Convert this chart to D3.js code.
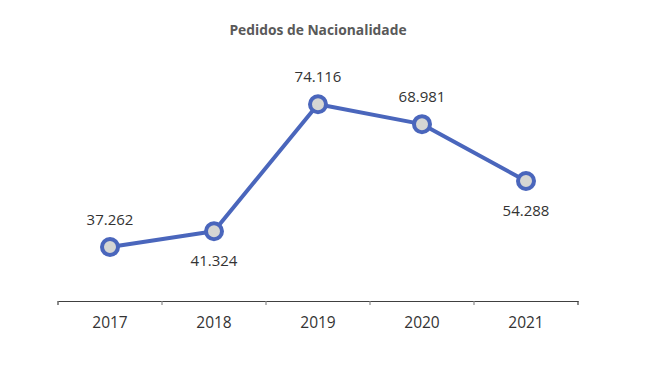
<!DOCTYPE html>
<html><head><meta charset="utf-8">
<script src="https://cdn.jsdelivr.net/npm/d3@7"></script>
<style>body{margin:0;background:#fff}</style>
</head><body>
<svg id="c" width="657" height="365"></svg>
<script>
const title = "Pedidos de Nacionalidade";
const years = ["2017","2018","2019","2020","2021"];
const values = [37262, 41324, 74116, 68981, 54288];
const labels = ["37.262","41.324","74.116","68.981","54.288"];
const labelPos = ["above","below","above","above","below"];

(function(){
const svg = d3.select("#c");
const W = 657, H = 365;
const mL = 58, mR = 578, mT = 80, mB = 301;
const font = "'Open Sans', 'Liberation Sans', sans-serif";
const lineColor = "#4A66BC";

svg.append("rect").attr("width", W).attr("height", H).attr("fill", "#fff");

svg.append("text").attr("x", 318).attr("y", 35).attr("text-anchor", "middle")
  .attr("font-family", font).attr("font-weight", "bold").attr("font-size", 13.8)
  .attr("fill", "#595959").text(title);

const x = d3.scaleBand().domain(years).range([mL, mR]).padding(0);
const y = d3.scaleLinear().domain([23300, 80000]).range([mB, mT + 1.5]);

const axis = d3.axisBottom(x).tickSize(0).tickPadding(16);
const gAx = svg.append("g").attr("transform", `translate(0,${mB})`).call(axis);
gAx.select(".domain").attr("stroke", "#404040").attr("stroke-width", 1.2);
gAx.selectAll("text").attr("font-family", font).attr("font-size", 15.5).attr("fill", "#333333");
const bounds = years.map(d => x(d)).concat([x(years[years.length-1]) + x.bandwidth()]);
svg.append("g").selectAll("line").data(bounds).join("line")
  .attr("x1", d => d).attr("x2", d => d).attr("y1", mB).attr("y2", mB + 4)
  .attr("stroke", (d,i) => (i === 0 || i === bounds.length-1) ? "#404040" : "#8a8a8a").attr("stroke-width", 1.2);

const cx = (d, i) => x(years[i]) + x.bandwidth() / 2;
const line = d3.line().x((d, i) => cx(d, i)).y(d => y(d));
svg.append("path").datum(values).attr("d", line).attr("fill", "none")
  .attr("stroke", lineColor).attr("stroke-width", 4).attr("stroke-linejoin", "round");

svg.append("g").selectAll("circle").data(values).join("circle")
  .attr("cx", cx).attr("cy", d => y(d)).attr("r", 8)
  .attr("fill", "#D6D6D3").attr("stroke", lineColor).attr("stroke-width", 4);

svg.append("g").selectAll("text").data(values).join("text")
  .attr("x", cx).attr("y", (d, i) => labelPos[i] === "above" ? y(d) - 22 : y(d) + 35)
  .attr("text-anchor", "middle").attr("font-family", font).attr("font-size", 15)
  .attr("fill", "#333333").text((d, i) => labels[i]);
})();
</script>
</body></html>
